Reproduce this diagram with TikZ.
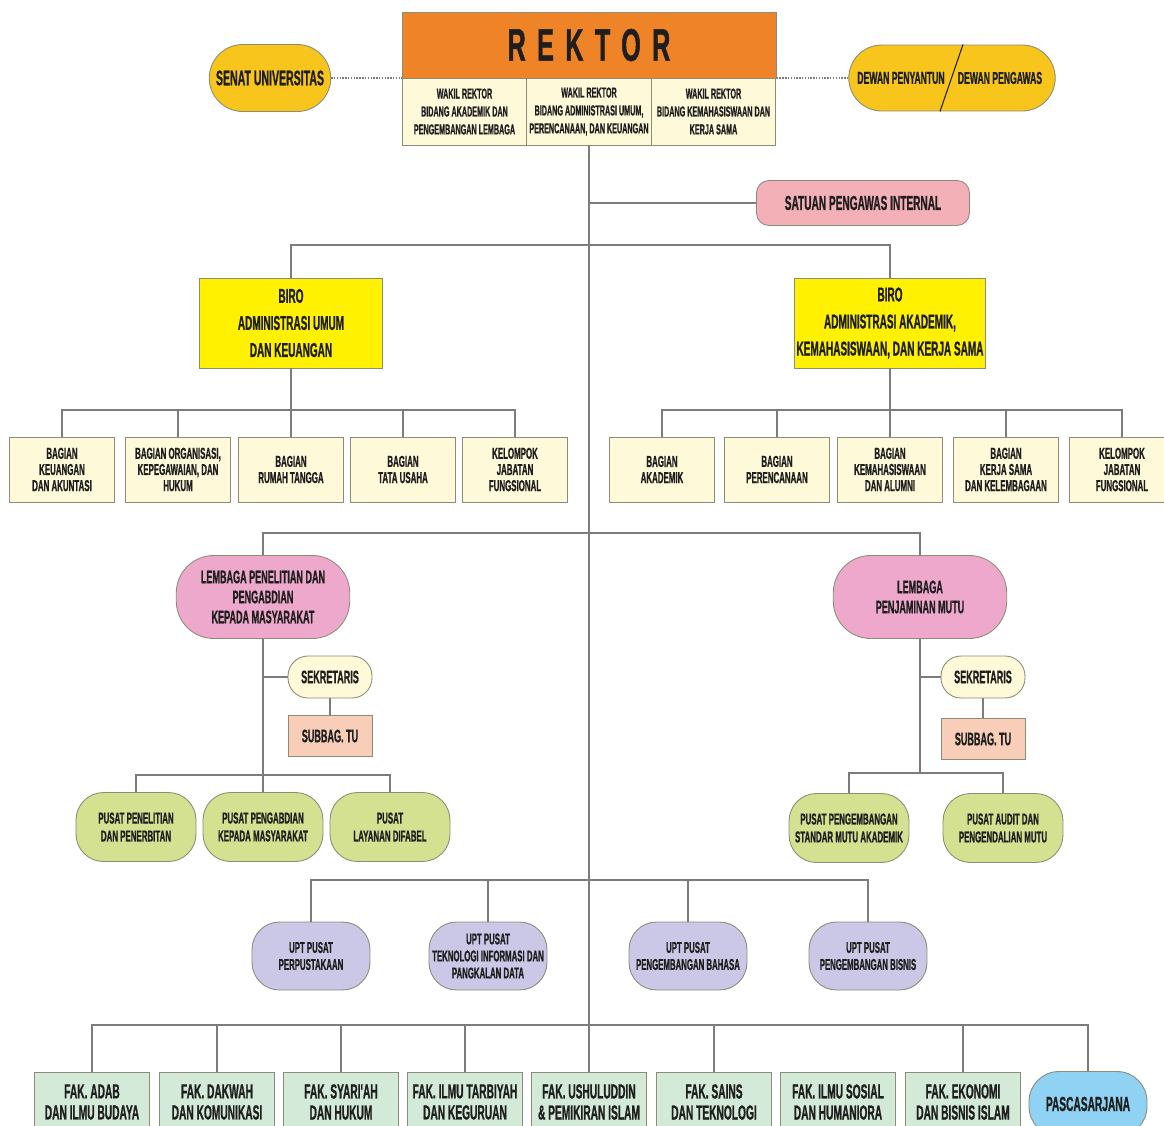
\documentclass[tikz,border=0pt]{standalone}
\usepackage{fontspec}
\newfontfamily\orgfont{Liberation Sans}[FakeStretch=0.5,BoldFeatures={FakeBold=0.8}]
\newfontfamily\rektorfont{Liberation Sans}[FakeStretch=0.55,LetterSpace=25,BoldFeatures={FakeBold=1}]
\usetikzlibrary{shapes.misc}
\newcommand\orgsize[2]{\fontsize{#1}{#2}\selectfont}

\definecolor{rektorbg}{HTML}{EE8427}
\definecolor{cream}{HTML}{FEF9D8}
\definecolor{gold}{HTML}{F7C51C}
\definecolor{spipink}{HTML}{F3B0B6}
\definecolor{biroyel}{HTML}{FFF100}
\definecolor{lembpink}{HTML}{EEA8CB}
\definecolor{salmon}{HTML}{F9CEB9}
\definecolor{pusgreen}{HTML}{D4E190}
\definecolor{uptlav}{HTML}{CBC7E6}
\definecolor{fakgreen}{HTML}{D2EAD7}
\definecolor{pascablue}{HTML}{8FD2F3}
\definecolor{edge}{HTML}{8C8C78}
\definecolor{wire}{HTML}{7C7C7C}
\definecolor{ink}{HTML}{1E1E1E}

\tikzset{
  box/.style={draw=edge, line width=0.5pt, align=center, inner sep=1pt, text=ink},
  wakil/.style={box, fill=cream, minimum width=2.49cm, minimum height=1.34cm,
    font=\orgfont\bfseries\orgsize{8.2}{10.2}},
  pill/.style={box, rounded rectangle, fill=gold, minimum height=1.34cm,
    font=\orgfont\bfseries\orgsize{12}{14}},
  biro/.style={box, fill=biroyel, minimum height=1.8cm,
    font=\orgfont\bfseries\orgsize{11.4}{15.4}},
  bagian/.style={box, fill=cream, minimum width=2.1cm, minimum height=1.3cm,
    font=\orgfont\bfseries\orgsize{9}{9.2}},
  lembaga/.style={box, fill=lembpink, rounded corners=0.75cm, minimum width=3.47cm,
    minimum height=1.66cm, font=\orgfont\bfseries\orgsize{10.3}{11.4}},
  sekre/.style={box, fill=cream, rounded corners=0.4cm, minimum width=1.68cm,
    minimum height=0.84cm, font=\orgfont\bfseries\orgsize{10.3}{12}},
  subbag/.style={box, fill=salmon, minimum width=1.68cm, minimum height=0.83cm,
    font=\orgfont\bfseries\orgsize{10.3}{12}},
  pusat/.style={box, fill=pusgreen, rounded corners=0.55cm, minimum width=2.4cm,
    minimum height=1.38cm, font=\orgfont\bfseries\orgsize{9}{10.2}},
  upt/.style={box, fill=uptlav, rounded corners=0.55cm, minimum width=2.36cm,
    minimum height=1.36cm, font=\orgfont\bfseries\orgsize{8.9}{9.7}},
  fak/.style={box, fill=fakgreen, minimum width=2.3cm, minimum height=1.2cm,
    font=\orgfont\bfseries\orgsize{11.6}{12}},
  link/.style={draw=wire, line width=0.7pt},
  dotlink/.style={draw=wire, line width=0.6pt, dash pattern=on 0.8pt off 0.8pt}
}

\begin{document}
\begin{tikzpicture}[x=0.02cm, y=-0.02cm]
  \useasboundingbox (0,0) rectangle (1164,1126);
  \clip (0,0) rectangle (1164,1126);

  % rektor block
  \node[box, fill=rektorbg, minimum width=7.48cm, minimum height=1.32cm,
    font=\rektorfont\bfseries\orgsize{26}{28}] (rektor) at (589,45) {REKTOR};
  \node[wakil] (w1) at (464.5,111.5) {WAKIL REKTOR\\BIDANG AKADEMIK DAN\\PENGEMBANGAN LEMBAGA};
  \node[wakil] (w2) at (589,111.5) {WAKIL REKTOR\\BIDANG ADMINISTRASI UMUM,\\PERENCANAAN, DAN KEUANGAN};
  \node[wakil] (w3) at (713.5,111.5) {WAKIL REKTOR\\BIDANG KEMAHASISWAAN DAN\\KERJA SAMA};

  \node[pill, minimum width=2.5cm] (senat) at (270,78) {SENAT UNIVERSITAS};
  \node[pill, minimum width=4.2cm, minimum height=1.32cm] (dewan) at (952,78) {};
  \node[font=\orgfont\bfseries\orgsize{9.8}{11}, text=ink] (penyantun) at (901,78) {DEWAN PENYANTUN};
  \node[font=\orgfont\bfseries\orgsize{9.8}{11}, text=ink] (pengawas) at (1000,78) {DEWAN PENGAWAS};
  \draw[line width=0.6pt, ink] ([xshift=0.22cm]dewan.north) -- ([xshift=-0.24cm]dewan.south);
  \draw[dotlink] (senat.east) -- (senat.east -| rektor.west);
  \draw[dotlink] (dewan.west) -- (dewan.west -| rektor.east);

  \node[box, fill=spipink, rounded corners=0.25cm, minimum width=4.26cm, minimum height=0.9cm,
    font=\orgfont\bfseries\orgsize{11.5}{12}] (spi) at (863,203) {SATUAN PENGAWAS INTERNAL};

  % biro
  \node[biro, minimum width=3.66cm] (biroL) at (291,323) {BIRO\\ADMINISTRASI UMUM\\DAN KEUANGAN};
  \node[biro, minimum width=3.64cm] (biroR) at (890,323) {BIRO\\ADMINISTRASI AKADEMIK,\\KEMAHASISWAAN, DAN KERJA SAMA};

  \node[bagian] (bl1) at (62,469.5) {BAGIAN\\KEUANGAN\\DAN AKUNTASI};
  \node[bagian] (bl2) at (178,469.5) {BAGIAN ORGANISASI,\\KEPEGAWAIAN, DAN\\HUKUM};
  \node[bagian] (bl3) at (291,469.5) {BAGIAN\\RUMAH TANGGA};
  \node[bagian] (bl4) at (403,469.5) {BAGIAN\\TATA USAHA};
  \node[bagian] (bl5) at (515,469.5) {KELOMPOK\\JABATAN\\FUNGSIONAL};

  \node[bagian] (br1) at (662,469.5) {BAGIAN\\AKADEMIK};
  \node[bagian] (br2) at (777,469.5) {BAGIAN\\PERENCANAAN};
  \node[bagian] (br3) at (890,469.5) {BAGIAN\\KEMAHASISWAAN\\DAN ALUMNI};
  \node[bagian] (br4) at (1006,469.5) {BAGIAN\\KERJA SAMA\\DAN KELEMBAGAAN};
  \node[bagian] (br5) at (1122,469.5) {KELOMPOK\\JABATAN\\FUNGSIONAL};

  % lembaga
  \node[lembaga] (lppm) at (263,597) {LEMBAGA PENELITIAN DAN\\PENGABDIAN\\KEPADA MASYARAKAT};
  \node[lembaga] (lpm) at (920,597) {LEMBAGA\\PENJAMINAN MUTU};

  \node[sekre] (sek1) at (330,677) {SEKRETARIS};
  \node[subbag] (sub1) at (330,736) {SUBBAG. TU};
  \node[sekre] (sek2) at (983,677) {SEKRETARIS};
  \node[subbag] (sub2) at (983,739) {SUBBAG. TU};

  \node[pusat] (ps1) at (136,827) {PUSAT PENELITIAN\\DAN PENERBITAN};
  \node[pusat] (ps2) at (263,827) {PUSAT PENGABDIAN\\KEPADA MASYARAKAT};
  \node[pusat] (ps3) at (390,827) {PUSAT\\LAYANAN DIFABEL};
  \node[pusat] (pm1) at (849,828) {PUSAT PENGEMBANGAN\\STANDAR MUTU AKADEMIK};
  \node[pusat] (pm2) at (1003,828) {PUSAT AUDIT DAN\\PENGENDALIAN MUTU};

  % upt
  \node[upt] (u1) at (311,956) {UPT PUSAT\\PERPUSTAKAAN};
  \node[upt] (u2) at (488,956) {UPT PUSAT\\TEKNOLOGI INFORMASI DAN\\PANGKALAN DATA};
  \node[upt] (u3) at (688,956) {UPT PUSAT\\PENGEMBANGAN BAHASA};
  \node[upt] (u4) at (868,956) {UPT PUSAT\\PENGEMBANGAN BISNIS};

  % fakultas
  \node[fak] (f1) at (92,1102) {FAK. ADAB\\DAN ILMU BUDAYA};
  \node[fak] (f2) at (217,1102) {FAK. DAKWAH\\DAN KOMUNIKASI};
  \node[fak] (f3) at (341,1102) {FAK. SYARI'AH\\DAN HUKUM};
  \node[fak] (f4) at (465,1102) {FAK. ILMU TARBIYAH\\DAN KEGURUAN};
  \node[fak] (f5) at (589,1102) {FAK. USHULUDDIN\\\& PEMIKIRAN ISLAM};
  \node[fak] (f6) at (714,1102) {FAK. SAINS\\DAN TEKNOLOGI};
  \node[fak] (f7) at (838,1102) {FAK. ILMU SOSIAL\\DAN HUMANIORA};
  \node[fak] (f8) at (963,1102) {FAK. EKONOMI\\DAN BISNIS ISLAM};
  \node[box, fill=pascablue, rounded corners=0.6cm, minimum width=2.36cm, minimum height=1.3cm,
    font=\orgfont\bfseries\orgsize{11.6}{12}] (pasca) at (1088,1104) {PASCASARJANA};

  % junctions
  \coordinate (biroj) at (589,245);
  \coordinate (lembj) at (589,533);
  \coordinate (uptj) at (589,880);
  \coordinate (fakj) at (589,1025);
  \coordinate (bagL) at (291,410);
  \coordinate (bagR) at (890,410);
  \coordinate (pusL) at (263,775);
  \coordinate (pusR) at (920,773);

  % connectors
  \draw[link] (w2.south) -- (f5.north);
  \draw[link] (spi.west) -- (spi.west -| w2.south);
  \draw[link] (biroL.north) |- (biroj) -| (biroR.north);
  \draw[link] (biroL.south) -- (bl3.north);
  \draw[link] (bl1.north) |- (bagL) -| (bl5.north);
  \foreach \i in {2,4} \draw[link] (bl\i.north) -- (bl\i.north |- bagL);
  \draw[link] (biroR.south) -- (br3.north);
  \draw[link] (br1.north) |- (bagR) -| (br5.north);
  \foreach \i in {2,4} \draw[link] (br\i.north) -- (br\i.north |- bagR);

  \draw[link] (lppm.north) |- (lembj) -| (lpm.north);
  \draw[link] (lppm.south) -- (ps2.north);
  \draw[link] (sek1.west) -- (sek1.west -| lppm.south);
  \draw[link] (sek1.south) -- (sub1.north);
  \draw[link] (ps1.north) |- (pusL) -| (ps3.north);
  \draw[link] (lpm.south) -- (pusR);
  \draw[link] (sek2.west) -- (sek2.west -| lpm.south);
  \draw[link] (sek2.south) -- (sub2.north);
  \draw[link] (pm1.north) |- (pusR) -| (pm2.north);

  \draw[link] (u1.north) |- (uptj) -| (u4.north);
  \foreach \i in {2,3} \draw[link] (u\i.north) -- (u\i.north |- uptj);
  \draw[link] (f1.north) |- (fakj) -| (pasca.north);
  \foreach \i in {2,3,4,6,8} \draw[link] (f\i.north) -- (f\i.north |- fakj);
\end{tikzpicture}
\end{document}
